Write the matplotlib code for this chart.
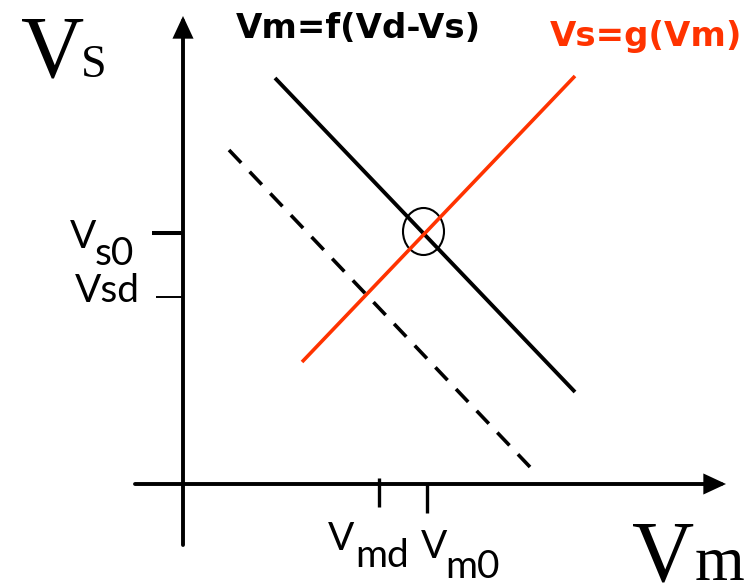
import matplotlib
matplotlib.use("Agg")
import matplotlib.pyplot as plt
from matplotlib.patches import Ellipse, FancyArrowPatch, ArrowStyle

# ---- data (diagram units: origin at axis crossing) ----
f_x = [92, 392]          # Vm = f(Vd - Vs), solid black
f_y = [406, 92]
g_x = [119, 392]         # Vs = g(Vm), red
g_y = [122, 408]
fd_x = [46, 347]         # shifted f curve, dashed
fd_y = [334, 17]
eq_point = (240.5, 252.5)  # operating point (circled)
ytick_vals = [251, 187]   # Vs0, Vsd
xtick_vals = [196, 244]   # Vmd, Vm0

RED = "#ff3300"
W, H = 753, 586
OX, OY = 183, 484   # origin in pixels

fig = plt.figure(figsize=(W / 100, H / 100), dpi=100)
ax = fig.add_axes([0, 0, 1, 1])
ax.set_xlim(-OX, W - OX)
ax.set_ylim(-(H - OY), OY)
ax.axis("off")

def P(px, py):
    """pixel position -> diagram coordinates (for text/layout only)"""
    return px - OX, OY - py

# axes with arrows
style = ArrowStyle("-|>", head_length=0.58, head_width=0.27)
ax.add_patch(FancyArrowPatch(P(183, 545), P(183, 16), arrowstyle=style,
                             mutation_scale=20, lw=2.8, color="black",
                             shrinkA=0, shrinkB=0, joinstyle="miter"))
ax.add_patch(FancyArrowPatch(P(135, 484), P(726, 484), arrowstyle=style,
                             mutation_scale=20, lw=2.8, color="black",
                             shrinkA=0, shrinkB=0, joinstyle="miter"))

# curves
ax.plot(f_x, f_y, color="black", lw=2.8, solid_capstyle="butt")
ax.plot(g_x, g_y, color=RED, lw=2.6, solid_capstyle="butt")
ax.plot(fd_x, fd_y, color="black", lw=2.6, linestyle=(0, (4.9, 3.4)),
        dash_capstyle="butt")

# circle at the equilibrium
ax.add_patch(Ellipse(eq_point, 41, 47, fill=False, ec="black", lw=1.5))

# ticks
ax.plot([-31, 0], [ytick_vals[0]] * 2, color="black", lw=2.9, solid_capstyle="butt")
ax.plot([-27, 0], [ytick_vals[1]] * 2, color="black", lw=1.4, solid_capstyle="butt")
ax.plot([xtick_vals[0]] * 2, [6, -23], color="black", lw=2.4, solid_capstyle="butt")
ax.plot([xtick_vals[1]] * 2, [0, -29], color="black", lw=2.4, solid_capstyle="butt")

# labels
lab = dict(family=["Lato", "DejaVu Sans"], fontsize=28,
           color="black", ha="left", va="baseline")
ax.text(*P(70, 248), "V", **lab)
ax.text(*P(95, 265), "s0", **lab)
ax.text(*P(75, 302), "Vsd", **lab)
ax.text(*P(328, 550), "V", **lab)
ax.text(*P(355, 567), "md", **lab)
ax.text(*P(421, 558), "V", **lab)
ax.text(*P(445, 578), "m0", **lab)

ser = dict(family="Liberation Serif", color="black", ha="left", va="baseline")
ax.text(*P(21, 77), "V", fontsize=63, **ser)
ax.text(*P(81, 77), "S", fontsize=33, **ser)
ax.text(*P(632, 580), "V", fontsize=62, **ser)
ax.text(*P(695, 580), "m", fontsize=46, **ser)

bold = dict(family="DejaVu Sans", fontweight="bold", fontsize=24.5,
            ha="left", va="baseline")
ax.text(*P(236, 38), "Vm=f(Vd-Vs)", color="black", **bold)
ax.text(*P(550, 46), "Vs=g(Vm)", color=RED, **bold)

fig.savefig("out.png", dpi=100)
